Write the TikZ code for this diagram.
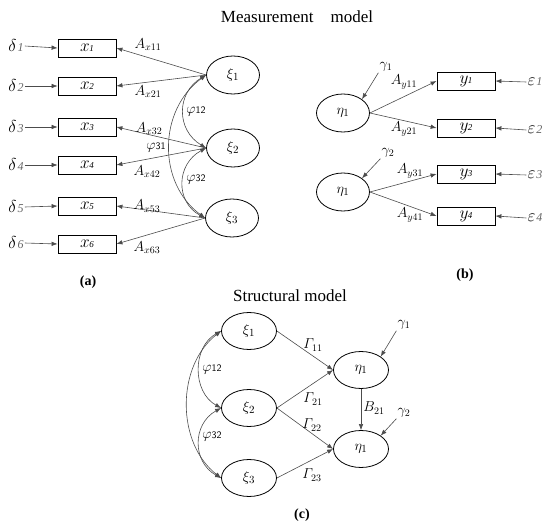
\documentclass[tikz,border=0pt]{standalone}
\usepackage{fontspec}
\setmainfont{Liberation Serif}
\usetikzlibrary{shapes.geometric,arrows.meta}
\newcommand\errlab[2]{$#1$\kern1pt{\fontsize{12}{14}\selectfont\color{black!60}\textit{#2}}}
\newcommand\obslab[2]{$#1$\kern-0.5pt{\fontsize{9}{10}\selectfont\textit{#2}}}
\newcommand\phlab[1]{$\varphi${\sffamily\fontsize{10}{12}\selectfont #1}}
\begin{document}
\begin{tikzpicture}[x=1pt,y=-1pt,
  tip/.tip={Latex[length=6pt,width=4.5pt]},
  conn/.style={draw=black!70, line width=0.6pt, -tip},
  dconn/.style={draw=black!70, line width=0.6pt, tip-tip},
  obsbox/.style={draw, line width=0.8pt, minimum width=58pt, minimum height=18pt, inner sep=0pt, font=\fontsize{16}{16}\selectfont},
  latA/.style={ellipse, draw, line width=0.8pt, minimum width=53pt, minimum height=38pt, inner sep=0pt, font=\fontsize{15}{16}\selectfont},
  latC/.style={ellipse, draw, line width=0.8pt, minimum width=55pt, minimum height=37pt, inner sep=0pt, font=\fontsize{15}{16}\selectfont},
  lab/.style={inner sep=1pt, font=\fontsize{14}{16}\selectfont},
  errl/.style={inner sep=1pt, font=\fontsize{16}{18}\selectfont},
  errlb/.style={inner sep=1pt, font=\fontsize{19}{20}\selectfont},
  ttl/.style={font=\fontsize{17}{20}\selectfont},
  partlab/.style={font=\fontsize{14}{16}\selectfont\bfseries}
]
\useasboundingbox (0,0) rectangle (550,527);

% ---------- titles ----------
\node[ttl] (t1) at (297,17) {Measurement\quad model};
\node[ttl] (t2) at (290,296) {Structural model};

% ---------- (a) ----------
\node[obsbox] (x1) at (87,48)  {\obslab{x}{1}};
\node[obsbox] (x2) at (87,86)  {\obslab{x}{2}};
\node[obsbox] (x3) at (87,127) {\obslab{x}{3}};
\node[obsbox] (x4) at (87,165) {\obslab{x}{4}};
\node[obsbox] (x5) at (87,206) {\obslab{x}{5}};
\node[obsbox] (x6) at (87,244) {\obslab{x}{6}};

\node[errl] (d1) at (16,46)  {\errlab{\delta}{1}};
\node[errl] (d2) at (16,86)  {\errlab{\delta}{2}};
\node[errl] (d3) at (16,127) {\errlab{\delta}{3}};
\node[errl] (d4) at (16,165) {\errlab{\delta}{4}};
\node[errl] (d5) at (16,207) {\errlab{\delta}{5}};
\node[errl] (d6) at (16,243) {\errlab{\delta}{6}};

\node[latA] (k1) at (233,75)  {$\xi_1$};
\node[latA] (k2) at (233,148) {$\xi_2$};
\node[latA] (k3) at (232,218) {$\xi_3$};

\foreach \i in {1,...,6} \draw[conn] (d\i.east) -- (x\i.west);

\draw[conn] (k1.west) -- (x1.east);
\draw[conn] (k1.west) -- (x2.east);
\draw[conn] (k2.west) -- (x3.east);
\draw[conn] (k2.west) -- (x4.east);
\draw[conn] (k3.west) -- (x5.east);
\draw[conn] (k3.west) -- (x6.east);

\draw[dconn] (k1.west) .. controls +(-30,18) and +(-30,-18) .. (k2.west);
\draw[dconn] (k2.west) .. controls +(-30,16) and +(-30,-16) .. (k3.west);
\draw[dconn] (k1.west) .. controls +(-48,35) and +(-48,-35) .. (k3.west);

\node[lab] (la1) at (148,45)  {$A_{x11}$};
\node[lab] (la2) at (148,92)  {$A_{x21}$};
\node[lab] (la3) at (149,129) {$A_{x32}$};
\node[lab] (la4) at (147,172) {$A_{x42}$};
\node[lab] (la5) at (147,206) {$A_{x53}$};
\node[lab] (la6) at (147,248) {$A_{x63}$};
\node[lab] (p12) at (196,112) {\phlab{12}};
\node[lab] (p31) at (156,148) {\phlab{31}};
\node[lab] (p32) at (196,180) {\phlab{32}};

\node[partlab] (ca) at (88,282) {(a)};

% ---------- (b) ----------
\node[latA] (e1) at (343,113) {$\eta_1$};
\node[latA] (e2) at (343,192) {$\eta_1$};

\node[obsbox] (y1) at (466,81)  {\obslab{y}{1}};
\node[obsbox] (y2) at (466,128) {\obslab{y}{2}};
\node[obsbox] (y3) at (466,174) {\obslab{y}{3}};
\node[obsbox] (y4) at (466,216) {\obslab{y}{4}};

\node[errlb] (ep1) at (535,82)  {\errlab{\varepsilon}{1}};
\node[errlb] (ep2) at (535,130) {\errlab{\varepsilon}{2}};
\node[errlb] (ep3) at (535,175) {\errlab{\varepsilon}{3}};
\node[errlb] (ep4) at (535,218) {\errlab{\varepsilon}{4}};

\foreach \i in {1,...,4} \draw[conn] (ep\i.west) -- (y\i.east);

\draw[conn] (e1.east) -- (y1.west);
\draw[conn] (e1.east) -- (y2.west);
\draw[conn] (e2.east) -- (y3.west);
\draw[conn] (e2.east) -- (y4.west);

\node[lab] (g1) at (386,67)  {$\gamma_1$};
\node[lab] (g2) at (388,153) {$\gamma_2$};
\draw[conn] (g1.south west) -- (e1.north east);
\draw[conn] (g2.south west) -- (e2.north east);

\node[lab] (ly1) at (404,82)  {$A_{y11}$};
\node[lab] (ly2) at (404,129) {$A_{y21}$};
\node[lab] (ly3) at (410,171) {$A_{y31}$};
\node[lab] (ly4) at (410,215) {$A_{y41}$};

\node[partlab] (cb) at (465,275) {(b)};

% ---------- (c) ----------
\node[latC] (s1) at (249,331) {$\xi_1$};
\node[latC] (s2) at (249,408) {$\xi_2$};
\node[latC] (s3) at (249,478) {$\xi_3$};
\node[latC] (h1) at (361,370) {$\eta_1$};
\node[latC] (h2) at (361,449) {$\eta_1$};

\draw[conn] (s1.east) -- (h1.west);
\draw[conn] (s2.east) -- (h1.west);
\draw[conn] (s2.east) -- (h2.west);
\draw[conn] (s3.east) -- (h2.west);
\draw[conn] (h1.south) -- (h2.north);

\draw[dconn] (s1.west) .. controls +(-29,16) and +(-29,-16) .. (s2.west);
\draw[dconn] (s2.west) .. controls +(-29,16) and +(-29,-16) .. (s3.west);
\draw[dconn] (s1.west) .. controls +(-45,35) and +(-45,-35) .. (s3.west);

\node[lab] (c1) at (404,325) {$\gamma_1$};
\node[lab] (c2) at (404,413) {$\gamma_2$};
\draw[conn] (c1.south west) -- (h1.north east);
\draw[conn] (c2.south west) -- (h2.north east);

\node[lab] (G11) at (313,345) {$\mathnormal{\Gamma}_{11}$};
\node[lab] (G21) at (313,399) {$\mathnormal{\Gamma}_{21}$};
\node[lab] (G22) at (312,425) {$\mathnormal{\Gamma}_{22}$};
\node[lab] (G23) at (312,475) {$\mathnormal{\Gamma}_{23}$};
\node[lab] (B21) at (374,408) {$B_{21}$};
\node[lab] (q12) at (212,370) {\phlab{12}};
\node[lab] (q32) at (212,437) {\phlab{32}};

\node[partlab] (cc) at (302,515) {(c)};
\end{tikzpicture}
\end{document}
